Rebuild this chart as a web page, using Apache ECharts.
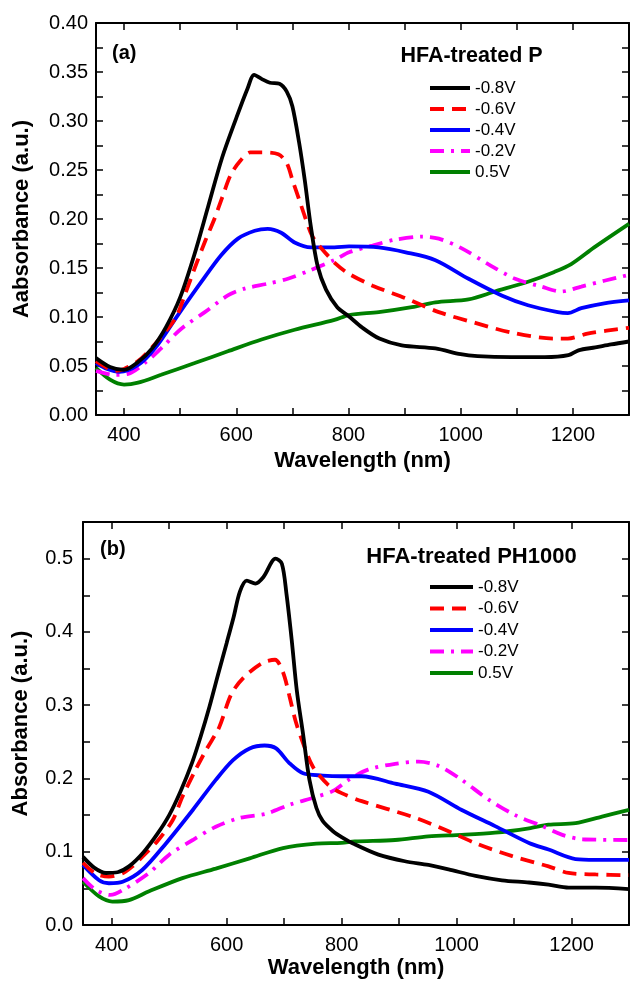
<!DOCTYPE html>
<html>
<head>
<meta charset="utf-8">
<script src="https://cdn.jsdelivr.net/npm/echarts@6/dist/echarts.min.js"></script>
<style>
html,body{margin:0;padding:0;background:#fff;}
#chart{width:632px;height:982px;}
</style>
</head>
<body>
<div id="chart"></div>
<script>
// ---------- Data (panel a: HFA-treated P) ----------
const seriesNames = ['-0.8V', '-0.6V', '-0.4V', '-0.2V', '0.5V'];

const aX08 = [350,375,400,425,450,475,500,525,550,575,600,620,632,645,660,677,690,700,712,722,733,745,760,780,800,825,855,895,955,1000,1030,1090,1150,1192,1210,1240,1268,1300];
const aY08 = [0.058,0.049,0.046,0.054,0.068,0.090,0.120,0.163,0.213,0.263,0.303,0.333,0.347,0.343,0.339,0.338,0.330,0.315,0.278,0.240,0.192,0.152,0.128,0.110,0.101,0.089,0.078,0.071,0.068,0.062,0.060,0.059,0.059,0.061,0.066,0.069,0.072,0.075];

const aX06 = [350,370,385,400,425,450,475,493,510,526,545,561,575,590,608,625,645,675,690,700,712,722,735,752,778,801,843,902,961,1026,1091,1167,1191,1226,1260,1300];
const aY06 = [0.055,0.048,0.045,0.047,0.055,0.069,0.086,0.100,0.125,0.150,0.178,0.200,0.222,0.245,0.260,0.268,0.268,0.266,0.257,0.240,0.220,0.203,0.183,0.170,0.154,0.144,0.132,0.119,0.105,0.094,0.084,0.078,0.078,0.083,0.086,0.089];

const aX04 = [350,370,392,425,455,496,538,573,603,633,656,680,704,733,775,801,854,902,955,1014,1073,1120,1173,1191,1215,1256,1300];
const aY04 = [0.053,0.047,0.044,0.051,0.068,0.102,0.136,0.163,0.180,0.188,0.190,0.186,0.176,0.171,0.171,0.172,0.171,0.166,0.158,0.139,0.122,0.112,0.105,0.104,0.109,0.114,0.117];

const aX02 = [350,383,407,437,466,502,544,585,615,656,692,733,778,801,843,884,931,961,1002,1049,1097,1144,1179,1215,1256,1300];
const aY02 = [0.045,0.041,0.042,0.053,0.068,0.088,0.105,0.122,0.129,0.134,0.139,0.148,0.159,0.166,0.173,0.179,0.182,0.180,0.170,0.154,0.139,0.131,0.126,0.131,0.137,0.143];

const aX05 = [350,375,400,425,466,526,585,645,704,775,801,854,913,955,1014,1061,1120,1167,1197,1238,1300];
const aY05 = [0.048,0.036,0.031,0.033,0.041,0.053,0.065,0.077,0.087,0.097,0.102,0.105,0.110,0.115,0.118,0.126,0.136,0.146,0.154,0.171,0.195];

// ---------- Data (panel b: HFA-treated PH1000) ----------
const bX08 = [350,370,390,410,430,455,480,500,520,540,555,570,585,600,612,623,635,650,664,685,696,704,713,722,733,744,756,767,785,800,823,864,910,951,986,1033,1079,1126,1160,1195,1242,1300];
const bY08 = [0.093,0.078,0.071,0.072,0.080,0.099,0.125,0.150,0.183,0.222,0.258,0.298,0.342,0.385,0.420,0.455,0.470,0.466,0.475,0.500,0.493,0.452,0.390,0.320,0.260,0.198,0.160,0.142,0.128,0.120,0.110,0.096,0.087,0.082,0.076,0.067,0.061,0.058,0.055,0.051,0.051,0.049];

const bX06 = [350,372,395,420,436,453,480,506,523,546,565,587,608,630,663,684,698,709,720,733,750,777,800,835,922,980,1038,1097,1160,1195,1242,1300];
const bY06 = [0.085,0.070,0.066,0.071,0.080,0.093,0.115,0.143,0.175,0.212,0.240,0.270,0.315,0.338,0.358,0.362,0.345,0.313,0.278,0.248,0.216,0.191,0.180,0.169,0.148,0.130,0.110,0.094,0.080,0.071,0.069,0.068];

const bX04 = [350,378,395,419,453,494,541,581,611,640,666,686,709,733,767,800,835,893,951,1009,1067,1126,1160,1207,1242,1300];
const bY04 = [0.082,0.061,0.057,0.059,0.075,0.111,0.157,0.198,0.225,0.241,0.245,0.241,0.221,0.207,0.204,0.203,0.203,0.193,0.182,0.157,0.135,0.112,0.103,0.090,0.089,0.089];

const bX02 = [350,372,398,424,465,500,541,581,622,669,709,756,785,812,846,893,934,969,1009,1056,1102,1149,1184,1219,1300];
const bY02 = [0.064,0.048,0.041,0.050,0.071,0.096,0.116,0.134,0.146,0.152,0.164,0.175,0.183,0.198,0.212,0.220,0.223,0.217,0.198,0.171,0.150,0.135,0.123,0.117,0.116];

const bX05 = [350,378,401,430,465,523,581,640,698,756,800,823,893,951,1009,1067,1126,1160,1207,1253,1300];
const bY05 = [0.059,0.039,0.032,0.034,0.046,0.064,0.077,0.091,0.105,0.111,0.112,0.114,0.116,0.121,0.123,0.126,0.132,0.137,0.139,0.148,0.157];

// ---------- Styling ----------
const FONT = 'Liberation Sans, Arial, Helvetica, sans-serif';
const colors = ['#000000', '#ff0000', '#0000ff', '#ff00ff', '#008000'];
const dashes = ['solid', [14, 8], 'solid', [14, 7, 3, 7], 'solid'];

function pairs(xs, ys) { return xs.map((x, i) => [x, ys[i]]); }

const panelA = [[aX08, aY08], [aX06, aY06], [aX04, aY04], [aX02, aY02], [aX05, aY05]];
const panelB = [[bX08, bY08], [bX06, bY06], [bX04, bY04], [bX02, bY02], [bX05, bY05]];

function isMult(v, step) { const r = v / step; return Math.abs(r - Math.round(r)) < 1e-6; }

function xAxes(gridIndex, nameGap) {
  const common = {
    type: 'value', gridIndex: gridIndex, min: 350, max: 1300, splitNumber: 10,
    axisLine: { show: true, onZero: false, lineStyle: { color: '#000', width: 2 } },
    axisTick: { show: true, inside: true, length: 7, lineStyle: { color: '#000', width: 1.5 } },
    splitLine: { show: false }
  };
  return [
    Object.assign({}, common, {
      position: 'bottom',
      name: 'Wavelength (nm)', nameLocation: 'middle', nameGap: nameGap,
      nameTextStyle: { fontFamily: FONT, fontSize: 22, fontWeight: 'bold', color: '#000' },
      axisLabel: {
        show: true, margin: 10, fontFamily: FONT, fontSize: 20, color: '#000',
        formatter: v => (isMult(v, 200) && v > 350 && v < 1300) ? String(v) : ''
      }
    }),
    Object.assign({}, common, { position: 'top', axisLabel: { show: false } })
  ];
}

function yAxes(gridIndex, max, step, labelStep, decimals, name, nameGap, margin) {
  const common = {
    type: 'value', gridIndex: gridIndex, min: 0, max: max, interval: step,
    axisLine: { show: true, onZero: false, lineStyle: { color: '#000', width: 2 } },
    axisTick: { show: true, inside: true, length: 7, lineStyle: { color: '#000', width: 1.5 } },
    splitLine: { show: false }
  };
  return [
    Object.assign({}, common, {
      position: 'left',
      name: name, nameLocation: 'middle', nameGap: nameGap,
      nameTextStyle: { fontFamily: FONT, fontSize: 22, fontWeight: 'bold', color: '#000' },
      axisLabel: {
        show: true, margin: margin, fontFamily: FONT, fontSize: 20, color: '#000',
        formatter: v => isMult(v, labelStep) ? v.toFixed(decimals) : ''
      }
    }),
    Object.assign({}, common, { position: 'right', axisLabel: { show: false } })
  ];
}

const series = [];
function addSeries(panel, xIdx, yIdx) {
  panel.forEach((p, i) => {
    series.push({
      name: seriesNames[i], type: 'line', xAxisIndex: xIdx, yAxisIndex: yIdx,
      data: pairs(p[0], p[1]), showSymbol: false, symbol: 'none', smooth: 0.3,
      lineStyle: { color: colors[i], width: 3.8, type: dashes[i] },
      itemStyle: { color: colors[i] },
      z: 10 - i, animation: false
    });
  });
}
addSeries(panelA, 0, 0);
addSeries(panelB, 2, 2);

function legend(top, width, gap) {
  return {
    orient: 'vertical', left: 428, top: top, padding: 0,
    itemWidth: width, itemHeight: 14, itemGap: gap,
    data: seriesNames,
    selectedMode: false,
    itemStyle: { opacity: 0, borderWidth: 0 },
    lineStyle: { width: 4 },
    textStyle: { fontFamily: FONT, fontSize: 17, color: '#000', lineHeight: 20 }
  };
}

const chart = echarts.init(document.getElementById('chart'), null, { renderer: 'canvas' });
chart.setOption({
  backgroundColor: '#fff',
  animation: false,
  grid: [
    { left: 96, top: 23, width: 534, height: 392, containLabel: false },
    { left: 83, top: 522, width: 547, height: 403, containLabel: false }
  ],
  xAxis: xAxes(0, 35).concat(xAxes(1, 32)),
  yAxis: yAxes(0, 0.40, 0.025, 0.05, 2, 'Aabsorbance (a.u.)', 63, 8)
    .concat(yAxes(1, 0.55, 0.05, 0.1, 1, 'Absorbance (a.u.)', 51, 10)),
  legend: [legend(78, 40, 1), legend(577, 43, 1.5)],
  graphic: [
    { type: 'text', left: 112, top: 43, style: { text: '(a)', font: 'bold 20px ' + FONT, fill: '#000' } },
    { type: 'text', left: 100, top: 539, style: { text: '(b)', font: 'bold 20px ' + FONT, fill: '#000' } },
    { type: 'text', x: 471.5, y: 56, style: { text: 'HFA-treated P', font: 'bold 21.5px ' + FONT, fill: '#000', textAlign: 'center', textVerticalAlign: 'middle' } },
    { type: 'text', x: 471.5, y: 557, style: { text: 'HFA-treated PH1000', font: 'bold 22px ' + FONT, fill: '#000', textAlign: 'center', textVerticalAlign: 'middle' } }
  ],
  series: series
});
</script>
</body>
</html>
